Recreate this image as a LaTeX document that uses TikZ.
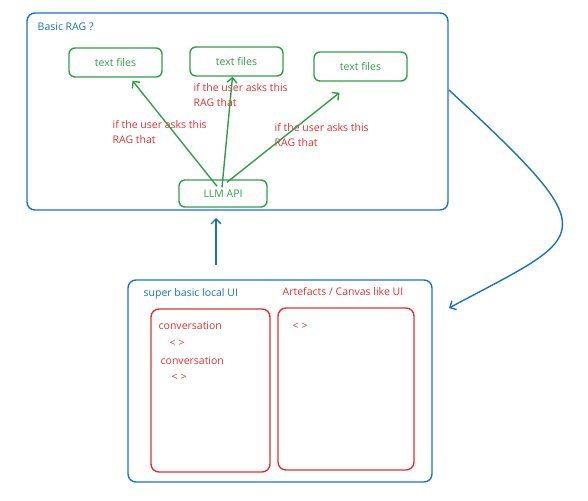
\documentclass[tikz,border=0pt]{standalone}
\usepackage{fontspec}
\setmainfont{Open Sans}
\usetikzlibrary{arrows.meta}
\usetikzlibrary{positioning}
\definecolor{skblue}{HTML}{1971C2}
\definecolor{skgreen}{HTML}{2F9E44}
\definecolor{skred}{HTML}{E03131}

\begin{document}
\begin{tikzpicture} [->,>={Straight Barb[length=5pt,width=10pt]},x=1pt,y=-1pt,line width=1.4pt,
  font=\fontsize{10.5}{15}\selectfont,
  box/.style={draw,rounded corners=8pt,inner sep=0pt},
  filebox/.style={box,skgreen,rounded corners=6pt,minimum width=93pt,minimum height=29pt},
  txt/.style={anchor=west,inner sep=0pt,align=left}]

  \useasboundingbox (0,0) rectangle (588,500);

  \node[box,skblue,minimum width=421pt,minimum height=197pt] (rag) at (237.5,111.5) {};
  \node[txt,skblue] (ragtitle) at (37,27) {Basic RAG ?};

  \node[filebox] (f1) at (115.5,62.5) {text files};
  \node[filebox] (f2) at (236.5,61.5) {text files};
  \node[filebox] (f3) at (360.5,66.5) {text files};
  \node[filebox,minimum width=88pt,minimum height=27pt] (llm) at (223,193.5) {LLM API};

  \node[txt,skred] (q1) at (112,132.5) {if the user asks this\\RAG that};
  \node[txt,skred] (q2) at (193,95) {if the user asks this\\RAG that};
  \node[txt,skred] (q3) at (274,135) {if the user asks this\\RAG that};

  \path[skgreen]
    ([xshift=-6pt,yshift=-7pt]llm.north) edge ([xshift=17pt,yshift=-3pt]f1.south)
    ([xshift=-1pt,yshift=-8pt]llm.north) edge ([xshift=-4pt]f2.south)
    ([xshift=4pt,yshift=-3pt]llm.north) edge ([xshift=-21pt,yshift=-11pt]f3.south);

  \node[box,skblue,minimum width=304pt,minimum height=202pt] (ui) at (280,381) {};
  \node[txt,skblue] (uititle) at (143,294) {super basic local UI};
  \node[txt,skred] (cvtitle) at (282,292) {Artefacts / Canvas like UI};

  \node[box,skred,minimum width=119pt,minimum height=163pt] (conv) at (210.5,390.5) {};
  \node[box,skred,minimum width=136pt,minimum height=162pt] (canvas) at (346,389) {};

  \node[txt,skred] (c1) at (158,326) {conversation};
  \node[txt,skred] (t1) at (169,343) {<\hspace{3pt}>};
  \node[txt,skred] (c2) at (160,361) {conversation};
  \node[txt,skred] (t2) at (171,377) {<\hspace{3pt}>};
  \node[txt,skred] (t3) at (292,326) {<\hspace{3pt}>};

  \coordinate (up1) at (216,265);
  \coordinate (up2) at (216,218);
  \coordinate (bend1) at (449,90);
  \coordinate (bend2) at (449,308);

  \draw[skblue] (up1) -- (up2);
  \draw[skblue] (bend1) .. controls (609,239) and (591,232) .. (bend2);

\end{tikzpicture}
\end{document}
